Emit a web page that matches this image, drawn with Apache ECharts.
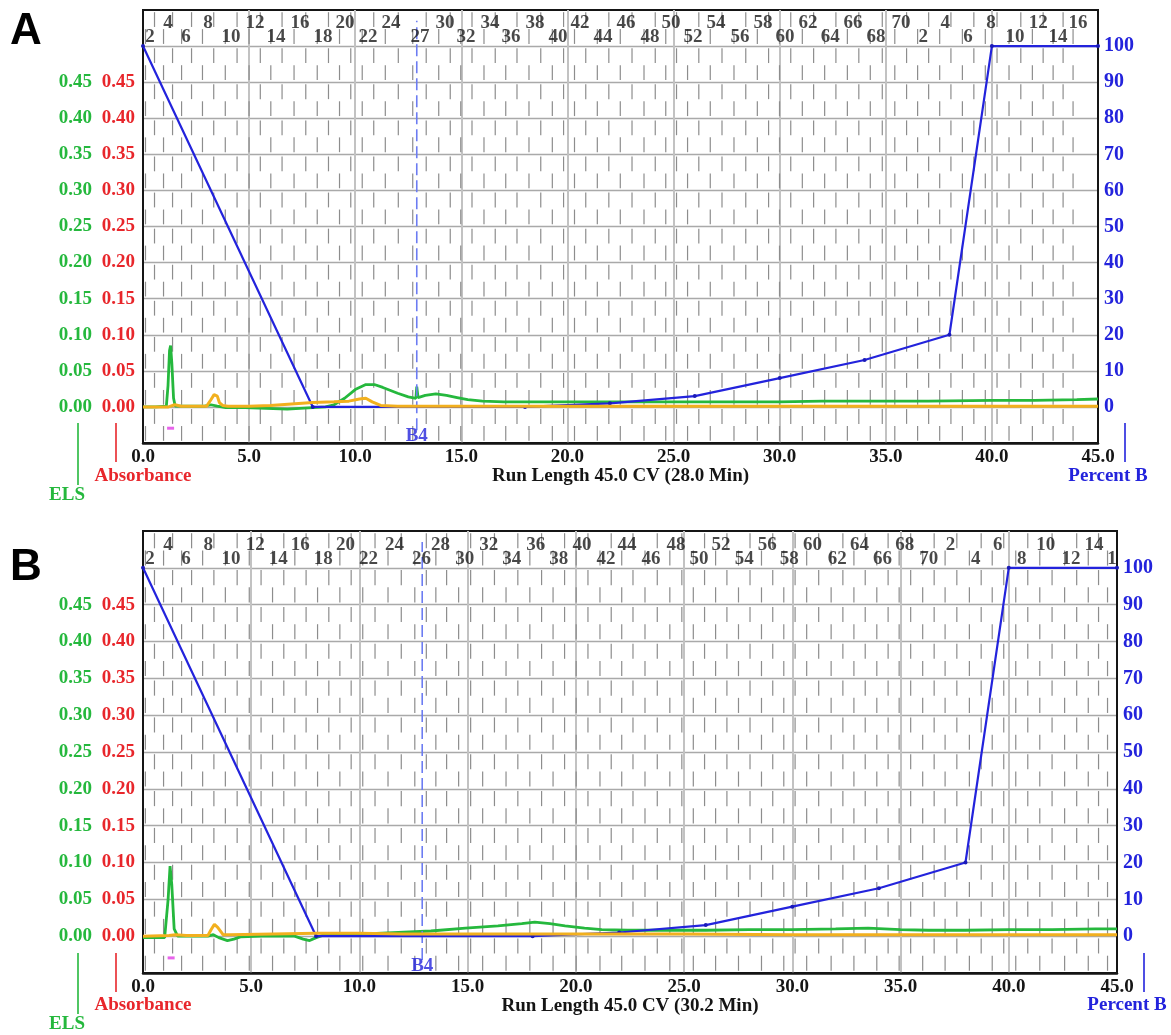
<!DOCTYPE html>
<html>
<head>
<meta charset="utf-8">
<script src="https://cdn.jsdelivr.net/npm/echarts@6/dist/echarts.min.js"></script>
<style>
  html, body { margin: 0; padding: 0; background: #fff; }
  #chart { width: 1171px; height: 1035px; }
</style>
</head>
<body>
<div id="chart"></div>
<script>
// ---- Run A (28.0 min) ----
const elsA = [
  [0, 0.000], [0.6, 0.000], [1.1, 0.001], [1.18, 0.030], [1.25, 0.078], [1.3, 0.085], [1.36, 0.060],
  [1.44, 0.012], [1.52, 0.001], [2.2, 0.001], [2.9, 0.001], [3.2, 0.003], [3.5, 0.001], [3.9, -0.001],
  [4.8, -0.001], [5.8, -0.002], [6.8, -0.003], [7.4, -0.002], [8.0, -0.001], [8.6, 0.000],
  [9.0, 0.003], [9.5, 0.012], [10.0, 0.024], [10.5, 0.031], [10.9, 0.031], [11.3, 0.027],
  [12.0, 0.019], [12.5, 0.014], [12.86, 0.012], [12.9, 0.028], [12.96, 0.013], [13.3, 0.016],
  [13.8, 0.018], [14.3, 0.016], [14.8, 0.013], [15.3, 0.010], [16.0, 0.008], [17.0, 0.007],
  [19.0, 0.007], [21.0, 0.007], [23.7, 0.007], [26.0, 0.007], [28.0, 0.007], [30.0, 0.007],
  [32.0, 0.008], [34.6, 0.008], [37.0, 0.008], [40.0, 0.009], [42.0, 0.009], [44.0, 0.010], [45.0, 0.011]
];
const absA = [
  [0, 0.000], [1.2, 0.000], [1.5, 0.003], [1.8, 0.001], [3.0, 0.001], [3.2, 0.010], [3.35, 0.017],
  [3.5, 0.015], [3.6, 0.006], [3.75, 0.002], [4.0, 0.001], [5.0, 0.001], [6.0, 0.002], [7.0, 0.004],
  [8.0, 0.006], [9.0, 0.007], [9.7, 0.008], [10.2, 0.011], [10.5, 0.012], [10.8, 0.007], [11.2, 0.002],
  [12.0, 0.001], [15.0, 0.001], [20.0, 0.001], [25.0, 0.001], [30.0, 0.001], [35.0, 0.001],
  [40.0, 0.001], [45.0, 0.001]
];
const fracTextA = ['2','4','6','8','10','12','14','16','18','20','22','24','27','30','32','34','36','38',
  '40','42','44','46','48','50','52','54','56','58','60','62','64','66','68','70','2','4','6','8','10','12','14','16'];
const fracCvA = [0.33, 1.18, 2.03, 3.06, 4.15, 5.28, 6.27, 7.40, 8.48, 9.52, 10.60, 11.69, 13.05, 14.23,
  15.22, 16.35, 17.34, 18.47, 19.56, 20.59, 21.68, 22.76, 23.89, 24.88, 25.92, 27.00, 28.13, 29.22,
  30.25, 31.34, 32.38, 33.46, 34.54, 35.72, 36.76, 37.80, 38.88, 39.96, 41.09, 42.18, 43.12, 44.06];
const runLabelA = 'Run Length 45.0 CV (28.0 Min)';

// ---- Run B (30.2 min) ----
const elsB = [
  [0, -0.002], [1.0, -0.002], [1.08, 0.000], [1.16, 0.050], [1.25, 0.095], [1.33, 0.070], [1.44, 0.010],
  [1.6, 0.000], [3.0, 0.000], [3.25, 0.002], [3.5, -0.002], [3.9, -0.006], [4.2, -0.004], [4.5, -0.001],
  [5.5, 0.000], [7.0, 0.000], [7.4, -0.004], [7.7, -0.006], [8.0, -0.002], [8.3, 0.001], [9.0, 0.002],
  [10.3, 0.003], [11.8, 0.005], [13.3, 0.007], [14.9, 0.011], [16.4, 0.014], [17.5, 0.017], [18.1, 0.019],
  [18.8, 0.017], [19.5, 0.014], [20.4, 0.011], [21.2, 0.009], [22.4, 0.008], [24.0, 0.008], [26.0, 0.008],
  [28.0, 0.009], [30.0, 0.009], [32.0, 0.010], [33.5, 0.011], [35.0, 0.009], [36.3, 0.008], [38.0, 0.008],
  [40.0, 0.009], [42.0, 0.009], [44.0, 0.010], [45.0, 0.010]
];
const absB = [
  [0, 0.000], [1.2, 0.001], [1.5, 0.002], [2.0, 0.001], [3.0, 0.001], [3.15, 0.009], [3.3, 0.016],
  [3.45, 0.012], [3.7, 0.002], [4.0, 0.002], [6.0, 0.003], [8.0, 0.004], [10.0, 0.004], [12.0, 0.003],
  [15.0, 0.003], [20.0, 0.003], [25.0, 0.003], [30.0, 0.002], [35.0, 0.002], [40.0, 0.002], [45.0, 0.002]
];
const fracTextB = ['2','4','6','8','10','12','14','16','18','20','22','24','26','28','30','32','34','36','38',
  '40','42','44','46','48','50','52','54','56','58','60','62','64','66','68','70','2','4','6','8','10','12','14','1'];
const fracCvB = [0.32, 1.16, 1.99, 3.01, 4.07, 5.19, 6.25, 7.27, 8.33, 9.35, 10.42, 11.62, 12.87, 13.75,
  14.86, 15.97, 17.04, 18.15, 19.21, 20.28, 21.39, 22.36, 23.47, 24.63, 25.69, 26.71, 27.78, 28.84,
  29.86, 30.93, 32.08, 33.10, 34.17, 35.19, 36.30, 37.31, 38.47, 39.49, 40.60, 41.71, 42.87, 43.94, 44.77];
const runLabelB = 'Run Length 45.0 CV (30.2 Min)';

// ---- shared method: solvent gradient (%B) and markers ----
const gradientB = [[0, 100], [8, 0], [18, 0], [22, 1], [26, 3], [30, 8], [34, 13], [38, 20], [40, 100], [45, 100]];
const b4Cv = 12.9;
const collectCv = 1.3;

const GREEN = '#25b83d', RED = '#e8262b', BLUE = '#2323dc', YELLOW = '#f2b01e', INK = '#151515';
const SERIF = '"Liberation Serif", "Times New Roman", serif';
const FS = 19;

// fraction boundaries sit between consecutive tube centres
function fractionTicks(pos) {
  const t = [pos[0] - (pos[1] - pos[0]) * 0.25];
  for (let i = 0; i < pos.length - 1; i++) {
    const a = pos[i], b = pos[i + 1];
    t.push(a + (b - a) * 0.25, a + (b - a) * 0.75);
  }
  return t.filter(v => v > 0.05 && v < 44.95).map((v, i) => [v, i % 2]);
}

function renderTick(params, api) {
  const x = api.value(0), ph = api.value(1);
  const kids = [];
  for (let k = -10; k < 110; k += 10) {
    const y0 = k + (ph ? 5.3 : 0.6);
    const a = api.coord([x, y0]), b = api.coord([x, y0 + 4.1]);
    kids.push({ type: 'line', shape: { x1: a[0], y1: a[1], x2: b[0], y2: b[1] },
      style: { stroke: '#8d8d8d', lineWidth: 1.2 } });
  }
  return { type: 'group', children: kids };
}

const panels = [
  { grid: { left: 143, top: 10, width: 955, height: 433 }, els: elsA, abs: absA,
    fracText: fracTextA, fracCv: fracCvA, run: runLabelA },
  { grid: { left: 143, top: 531, width: 974, height: 442 }, els: elsB, abs: absB,
    fracText: fracTextB, fracCv: fracCvB, run: runLabelB }
];

const grids = [], xAxes = [], yAxes = [], series = [];
const boldText = (color, size) => ({ color, fontFamily: SERIF, fontWeight: 'bold', fontSize: size });

panels.forEach((p, i) => {
  grids.push(Object.assign({ show: true, borderColor: INK, borderWidth: 2, backgroundColor: '#fff',
    outerBoundsMode: 'none', containLabel: false }, p.grid));

  xAxes.push({
    type: 'value', gridIndex: i, min: 0, max: 45, interval: 5, position: 'bottom',
    axisLine: { show: true, onZero: false, lineStyle: { color: INK, width: 2.5 } },
    axisTick: { show: false },
    axisLabel: Object.assign({ margin: 5, formatter: v => v.toFixed(1) }, boldText(INK, FS)),
    splitLine: { show: true, showMinLine: false, showMaxLine: false, lineStyle: { color: '#c2c2c2', width: 2 } },
    name: p.run, nameLocation: 'middle', nameGap: 24, nameMoveOverlap: false,
    nameTextStyle: boldText(INK, FS)
  });

  // %B axis (right) — also carries the horizontal grid
  yAxes.push({
    type: 'value', gridIndex: i, position: 'right', min: -10, max: 110, interval: 10,
    axisLine: { show: true, onZero: false, lineStyle: { color: INK, width: 2 } },
    axisTick: { show: false },
    axisLabel: Object.assign({ margin: 6, formatter: v => (v >= 0 && v <= 100) ? String(v) : '' }, boldText(BLUE, FS + 1)),
    splitLine: { show: true, showMinLine: false, showMaxLine: false, lineStyle: { color: '#a9a9a9', width: 1.3 } }
  });
  // Absorbance axis (left, red)
  yAxes.push({
    type: 'value', gridIndex: i, position: 'left', min: -0.05, max: 0.55, interval: 0.05,
    axisLine: { show: true, onZero: false, lineStyle: { color: INK, width: 2 } },
    axisTick: { show: false },
    axisLabel: Object.assign({ margin: 8, formatter: v => (v > -0.001 && v < 0.499) ? v.toFixed(2) : '' }, boldText(RED, FS)),
    splitLine: { show: false }
  });
  // ELS axis (left, green, offset)
  yAxes.push({
    type: 'value', gridIndex: i, position: 'left', offset: 43, min: -0.05, max: 0.55, interval: 0.05,
    axisLine: { show: false }, axisTick: { show: false },
    axisLabel: Object.assign({ margin: 8, formatter: v => (v > -0.001 && v < 0.499) ? v.toFixed(2) : '' }, boldText(GREEN, FS)),
    splitLine: { show: false }
  });

  const yP = 3 * i, yAbs = 3 * i + 1, yEls = 3 * i + 2;

  series.push({
    type: 'custom', xAxisIndex: i, yAxisIndex: yP, silent: true, z: 1,
    renderItem: renderTick, data: fractionTicks(p.fracCv)
  });
  series.push({
    type: 'line', xAxisIndex: i, yAxisIndex: yEls, data: p.els, symbol: 'none', z: 3,
    lineStyle: { color: GREEN, width: 2.8 }
  });
  series.push({
    type: 'line', xAxisIndex: i, yAxisIndex: yP, data: gradientB, z: 4,
    symbol: 'circle', symbolSize: 4, showSymbol: true, itemStyle: { color: '#1a1ab8' },
    lineStyle: { color: BLUE, width: 2.2 }
  });
  series.push({
    type: 'line', xAxisIndex: i, yAxisIndex: yAbs, data: p.abs, symbol: 'none', z: 5,
    lineStyle: { color: YELLOW, width: 3 }
  });
  // B4 event marker
  series.push({
    type: 'line', xAxisIndex: i, yAxisIndex: yP, data: [[b4Cv, -6.5], [b4Cv, 107]], symbol: 'none', z: 3,
    lineStyle: { color: '#6c7cf2', width: 1.6, type: [12, 5] }
  });
  series.push({
    type: 'scatter', xAxisIndex: i, yAxisIndex: yP, silent: true, z: 6,
    symbolSize: 1, itemStyle: { color: 'rgba(0,0,0,0)' },
    data: [{ name: 'B4', value: [b4Cv, -8.2] }],
    label: Object.assign({ show: true, position: 'inside', formatter: '{b}' }, boldText(BLUE, FS))
  });
  // collected-peak marker
  series.push({
    type: 'scatter', xAxisIndex: i, yAxisIndex: yP, silent: true, z: 6,
    symbol: 'rect', symbolSize: [7, 3], itemStyle: { color: '#e23de6' },
    data: [[collectCv, -5.9]]
  });
  // fraction tube numbers in the header strip
  series.push({
    type: 'scatter', xAxisIndex: i, yAxisIndex: yP, silent: true, z: 6,
    symbolSize: 1, itemStyle: { color: 'rgba(0,0,0,0)' },
    data: p.fracText.map((t, k) => ({ name: t, value: [p.fracCv[k], k % 2 ? 106.3 : 102.4] })),
    label: Object.assign({ show: true, position: 'inside', formatter: '{b}' }, boldText('#1a1a1a', FS))
  });
});

function txt(text, x, y, color, font, align) {
  return { type: 'text', x, y, silent: true,
    style: { text, fill: color, font, textAlign: align || 'center', textVerticalAlign: 'middle', verticalAlign: 'middle' } };
}
function vline(x, y1, y2, color) {
  return { type: 'line', silent: true, shape: { x1: x, y1, x2: x, y2 }, style: { stroke: color, lineWidth: 1.6 } };
}
const FNT = 'bold ' + FS + 'px ' + SERIF;
const graphics = [
  txt('A', 26, 32, '#000', 'bold 44px "Liberation Sans", Arial, sans-serif'),
  vline(78, 423, 485, GREEN), vline(116, 423, 462, RED), vline(1125, 423, 462, BLUE),
  txt('ELS', 67, 495, GREEN, FNT), txt('Absorbance', 143, 476, RED, FNT), txt('Percent B', 1108, 476, BLUE, FNT),

  txt('B', 26, 568, '#000', 'bold 44px "Liberation Sans", Arial, sans-serif'),
  vline(78, 953, 1014, GREEN), vline(116, 953, 992, RED), vline(1144, 953, 992, BLUE),
  txt('ELS', 67, 1024, GREEN, FNT), txt('Absorbance', 143, 1005, RED, FNT), txt('Percent B', 1127, 1005, BLUE, FNT)
];

const chart = echarts.init(document.getElementById('chart'), null, { renderer: 'canvas' });
chart.setOption({
  animation: false,
  backgroundColor: '#fff',
  grid: grids,
  xAxis: xAxes,
  yAxis: yAxes,
  series,
  graphic: graphics
});
</script>
</body>
</html>
